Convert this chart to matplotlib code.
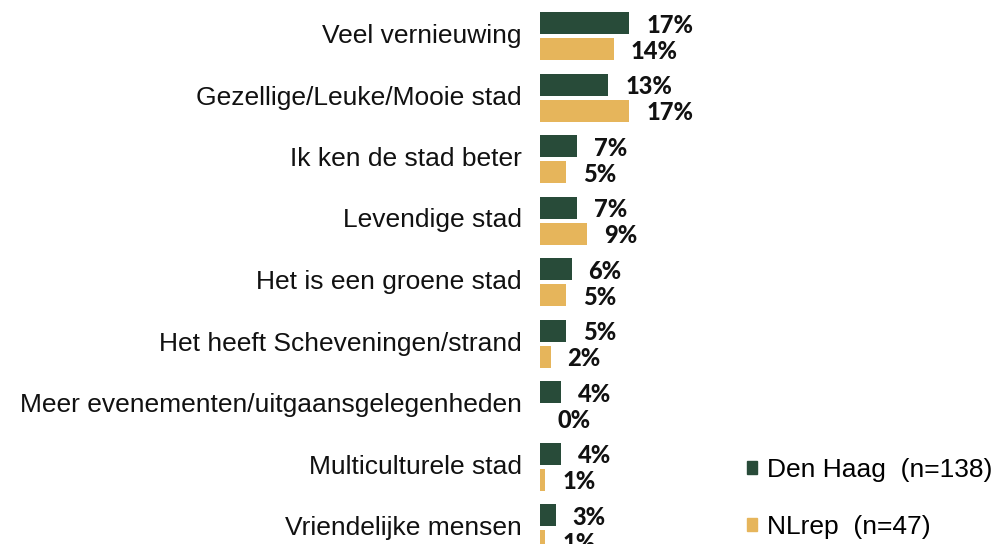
import matplotlib.pyplot as plt
from matplotlib.patches import Patch
import numpy as np

categories = ["Veel vernieuwing", "Gezellige/Leuke/Mooie stad", "Ik ken de stad beter",
              "Levendige stad", "Het is een groene stad", "Het heeft Scheveningen/strand",
              "Meer evenementen/uitgaansgelegenheden", "Multiculturele stad", "Vriendelijke mensen"]
den_haag = [17, 13, 7, 7, 6, 5, 4, 4, 3]
nlrep = [14, 17, 5, 9, 5, 2, 0, 1, 1]
series_names = ["Den Haag  (n=138)", "NLrep  (n=47)"]

green = "#284b39"
yellow = "#e6b55b"

W, H = 995, 544
fig = plt.figure(figsize=(W / 100, H / 100), dpi=100)
left_px = 540
ax = fig.add_axes([left_px / W, 0, (W - left_px) / W, 1])

px_per_pct = 5.25
pitch = 61.5
top_off = 36 / pitch
ax.set_xlim(0, (W - left_px) / px_per_pct)
ax.set_ylim(-top_off + H / pitch, -top_off)

y = np.arange(len(categories))
bh = 22 / pitch
off = 13 / pitch
ax.barh(y - off, den_haag, height=bh, color=green)
ax.barh(y + off, nlrep, height=bh, color=yellow)

# value labels sit a fixed gap right of each bar
lbl_off = 17 / px_per_pct
for i in range(len(categories)):
    ax.text(den_haag[i] + lbl_off, y[i] - off + 0.04, f"{den_haag[i]}%", ha="left", va="center",
            fontsize=17, fontweight="black", family="Lato", color="#111111")
    ax.text(nlrep[i] + lbl_off, y[i] + off + 0.04, f"{nlrep[i]}%", ha="left", va="center",
            fontsize=17, fontweight="black", family="Lato", color="#111111")
    ax.text(-18 / px_per_pct, y[i], categories[i], ha="right", va="center",
            fontsize=19, family="Liberation Sans", color="#111111", clip_on=False)

ax.axis("off")

handles = [Patch(color=green), Patch(color=yellow)]
leg = ax.legend(handles, series_names, loc="upper left", bbox_to_anchor=(207 / (W - left_px), 1 - 458 / H),
                frameon=False, handlelength=0.36, handleheight=0.36, handletextpad=0.4,
                labelspacing=1.25, borderaxespad=0, borderpad=0,
                prop={"family": "Liberation Sans", "size": 19})

fig.savefig("out.png", dpi=100)
